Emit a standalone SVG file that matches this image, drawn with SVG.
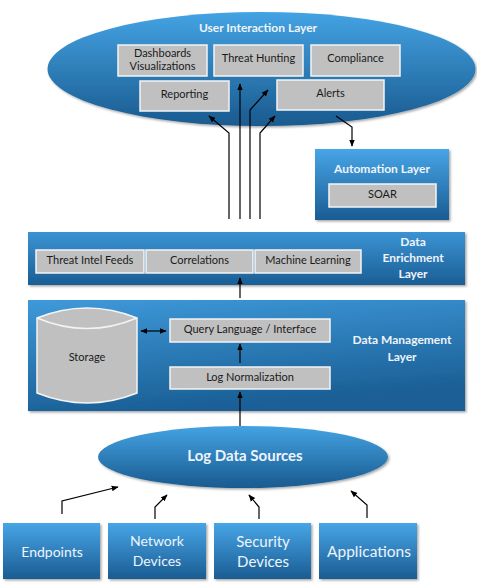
<svg xmlns="http://www.w3.org/2000/svg" width="477" height="587" viewBox="0 0 477 587">
<defs>
<linearGradient id="gBlue" x1="0" y1="0" x2="0" y2="1">
<stop offset="0" stop-color="#47a5e6"/>
<stop offset="1" stop-color="#1a5c93"/>
</linearGradient>
<linearGradient id="gEll" x1="0" y1="0" x2="0" y2="1">
<stop offset="0" stop-color="#44a3e3"/>
<stop offset="1" stop-color="#195a8f"/>
</linearGradient>
<linearGradient id="gLayer" x1="0" y1="0" x2="0" y2="1">
<stop offset="0" stop-color="#3b93d3"/>
<stop offset="1" stop-color="#1b5e95"/>
</linearGradient>
<linearGradient id="gMgmt" x1="0" y1="0" x2="0.3" y2="1">
<stop offset="0" stop-color="#3e99da"/>
<stop offset="1" stop-color="#1b5f96"/>
</linearGradient>
<filter id="sh" x="-10%" y="-10%" width="130%" height="130%">
<feDropShadow dx="1.5" dy="1.5" stdDeviation="1" flood-color="#000" flood-opacity="0.35"/>
</filter>
<marker id="ah" viewBox="0 0 10 10" refX="9" refY="5" markerWidth="7" markerHeight="7" orient="auto-start-reverse" markerUnits="userSpaceOnUse">
<path d="M0,1 L10,5 L0,9 Z" fill="#000"/>
</marker>
</defs>
<style>
.gray{fill:#c0c0c0;stroke:#f4f4f4;stroke-width:1.5}
.t{font-family:Lato,"Open Sans","Liberation Sans",sans-serif;font-size:11px;fill:#1a1a1a;text-anchor:middle}
.h{font-family:Lato,"Open Sans","Liberation Sans",sans-serif;font-weight:bold;fill:#eef4fb;text-anchor:middle}
.w{font-family:Lato,"Open Sans","Liberation Sans",sans-serif;fill:#eef4fb;text-anchor:middle}
.c{fill:none;stroke:#000;stroke-width:1.2;marker-end:url(#ah)}
</style>
<rect width="477" height="587" fill="#fff"/>

<g id="user-interaction-layer">
<ellipse cx="261.5" cy="69" rx="214" ry="57" fill="url(#gEll)" filter="url(#sh)"/>
<text class="h" x="258" y="32" font-size="12">User Interaction Layer</text>
</g>
<g id="dashboards"><rect class="gray" x="118" y="45" width="89" height="31"/><text class="t" x="162.5" y="57">Dashboards</text><text class="t" x="162.5" y="70">Visualizations</text></g>
<g id="threat-hunting"><rect class="gray" x="214" y="45" width="89" height="31"/><text class="t" x="258.5" y="62">Threat Hunting</text></g>
<g id="compliance"><rect class="gray" x="311" y="45" width="89" height="31"/><text class="t" x="355.5" y="62">Compliance</text></g>
<g id="reporting"><rect class="gray" x="140" y="81" width="89" height="30"/><text class="t" x="184.5" y="98">Reporting</text></g>
<g id="alerts"><rect class="gray" x="277" y="80" width="107" height="30"/><text class="t" x="330.5" y="97">Alerts</text></g>

<g id="automation-layer">
<rect x="315" y="149" width="134" height="71" fill="url(#gBlue)" filter="url(#sh)"/>
<text class="h" x="382" y="173" font-size="12">Automation Layer</text>
<rect class="gray" x="329" y="184" width="107" height="23"/>
<text class="t" x="382.5" y="198" font-size="9">SOAR</text>
</g>

<g id="data-enrichment-layer">
<rect x="28" y="232" width="437" height="53" fill="url(#gLayer)" filter="url(#sh)"/>
<text class="h" x="413" y="246" font-size="12">Data</text>
<text class="h" x="413" y="262" font-size="12">Enrichment</text>
<text class="h" x="413" y="278" font-size="12">Layer</text>
</g>
<g id="threat-intel-feeds"><rect class="gray" x="36" y="250" width="108" height="23"/><text class="t" x="90" y="264">Threat Intel Feeds</text></g>
<g id="correlations"><rect class="gray" x="146" y="250" width="107" height="23"/><text class="t" x="199.5" y="264">Correlations</text></g>
<g id="machine-learning"><rect class="gray" x="255" y="250" width="106" height="23"/><text class="t" x="308" y="264">Machine Learning</text></g>

<g id="data-management-layer">
<rect x="28" y="300" width="437" height="111" fill="url(#gMgmt)" filter="url(#sh)"/>
<text class="h" x="402" y="344" font-size="12">Data Management</text>
<text class="h" x="402" y="361" font-size="12">Layer</text>
</g>
<g id="storage">
<path d="M37,318 Q87,298 137,318 V393 Q87,413 37,393 Z" fill="#c0c0c0" stroke="#f4f4f4" stroke-width="1.5"/>
<path d="M37,318 Q87,339 137,318" fill="none" stroke="#f4f4f4" stroke-width="1.5"/>
<text class="t" x="87" y="361">Storage</text>
</g>
<g id="query-language"><rect class="gray" x="170" y="319" width="160" height="23"/><text class="t" x="250" y="333">Query Language / Interface</text></g>
<g id="log-normalization"><rect class="gray" x="170" y="367" width="160" height="22"/><text class="t" x="250" y="381">Log Normalization</text></g>

<g id="log-data-sources">
<ellipse cx="243" cy="457" rx="145" ry="31" fill="url(#gEll)" filter="url(#sh)"/>
<text class="h" x="245" y="461" font-size="15">Log Data Sources</text>
</g>

<g id="endpoints"><rect x="3" y="523" width="97" height="56" fill="url(#gBlue)" filter="url(#sh)"/><text class="w" x="52" y="557" font-size="14">Endpoints</text></g>
<g id="network-devices"><rect x="108" y="523" width="98" height="56" fill="url(#gBlue)" filter="url(#sh)"/><text class="w" x="157" y="546" font-size="14">Network</text><text class="w" x="157" y="566" font-size="14">Devices</text></g>
<g id="security-devices"><rect x="214" y="523" width="97" height="56" fill="url(#gBlue)" filter="url(#sh)"/><text class="w" x="263" y="547" font-size="15">Security</text><text class="w" x="263" y="567" font-size="15">Devices</text></g>
<g id="applications"><rect x="319" y="523" width="98" height="56" fill="url(#gBlue)" filter="url(#sh)"/><text class="w" x="369" y="557" font-size="15.5">Applications</text></g>

<g id="connectors">
<path class="c" d="M229,219 V133 L209,116"/>
<path class="c" d="M240,219 V84"/>
<path class="c" d="M250,219 V110 L268,90"/>
<path class="c" d="M260,219 V133 L275,116"/>
<path class="c" d="M336,116 L352,127 V146"/>
<path class="c" d="M240,298 V278"/>
<path class="c" d="M240,363 V344"/>
<path class="c" d="M240,426 V392"/>
<path class="c" d="M141,331 H166" marker-start="url(#ah)"/>
<path class="c" d="M62,514 V501 L118,487"/>
<path class="c" d="M155,519 V507 L167,495"/>
<path class="c" d="M259,519 V507 L249,495"/>
<path class="c" d="M367,518 V505 L351,491"/>
</g>
</svg>
